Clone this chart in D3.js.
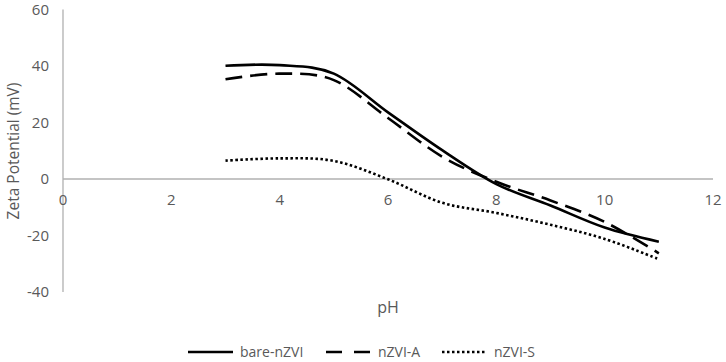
<!DOCTYPE html>
<html>
<head>
<meta charset="utf-8">
<script src="https://cdn.jsdelivr.net/npm/d3@7"></script>
<style>
  body { margin: 0; background: #fff; }
  text { font-family: "Open Sans", "Noto Sans", sans-serif; fill: #595959; }
</style>
</head>
<body>
<script>
// pH points measured
var pH = [3, 4, 5, 6, 7, 8, 9, 10, 11];

// zeta potential values (mV)
var bareNZVI = [40.1, 40.3, 37.3, 23.6, 10.2, -1.8, -9.4, -17.2, -22.2];
var nZVIA    = [35.3, 37.3, 35.0, 21.6, 7.9, -1.0, -7.6, -15.2, -26.3];
var nZVIS    = [6.5, 7.3, 6.4, -0.1, -8.4, -12.0, -16.2, -21.2, -28.4];

var seriesNames = ["bare-nZVI", "nZVI-A", "nZVI-S"];
var xTicks = [0, 2, 4, 6, 8, 10, 12];
var yTicks = [-40, -20, 0, 20, 40, 60];

var width = 726, height = 362;

var x = d3.scaleLinear().domain([0, 12]).range([63, 713]);
var y = d3.scaleLinear().domain([-40, 60]).range([292, 9.5]);

var svg = d3.select("body").append("svg")
  .attr("width", width)
  .attr("height", height);

// y axis line
svg.append("line")
  .attr("x1", x(0)).attr("x2", x(0))
  .attr("y1", y(60)).attr("y2", y(-40))
  .attr("stroke", "#b0b0b0").attr("stroke-width", 1.3);

// x axis line sits at zero
svg.append("line")
  .attr("x1", x(0)).attr("x2", x(12))
  .attr("y1", y(0)).attr("y2", y(0))
  .attr("stroke", "#b0b0b0").attr("stroke-width", 1.3);

svg.selectAll(".ylab")
  .data(yTicks)
  .enter().append("text")
  .attr("class", "ylab")
  .attr("x", 49)
  .attr("y", function (d) { return y(d); })
  .attr("dy", "0.35em")
  .attr("text-anchor", "end")
  .style("font-size", "15px")
  .text(function (d) { return d; });

svg.selectAll(".xlab")
  .data(xTicks)
  .enter().append("text")
  .attr("class", "xlab")
  .attr("x", function (d) { return x(d); })
  .attr("y", y(0) + 21)
  .attr("dy", "0.35em")
  .attr("text-anchor", "middle")
  .style("font-size", "15px")
  .text(function (d) { return d; });

// axis titles
svg.append("text")
  .attr("x", (x(0) + x(12)) / 2)
  .attr("y", 313)
  .attr("text-anchor", "middle")
  .style("font-size", "16px")
  .text("pH");

svg.append("text")
  .attr("transform", "translate(19," + 151 + ") rotate(-90)")
  .attr("text-anchor", "middle")
  .style("font-size", "15.5px")
  .text("Zeta Potential (mV)");

var line = d3.line()
  .x(function (d) { return x(d[0]); })
  .y(function (d) { return y(d[1]); })
  .curve(d3.curveCatmullRom.alpha(0));

var dashes = ["none", "17,8", "2.5,2.5"];
var legDashes = ["none", "16,12", "2.5,2.5"];
var allSeries = [bareNZVI, nZVIA, nZVIS];

svg.selectAll(".series")
  .data(allSeries)
  .enter().append("path")
  .attr("class", "series")
  .attr("d", function (vals) { return line(vals.map(function (v, i) { return [pH[i], v]; })); })
  .attr("fill", "none")
  .attr("stroke", "#000")
  .attr("stroke-width", 2.6)
  .attr("stroke-dasharray", function (d, i) { return dashes[i]; });

// legend
var legX = [188, 326, 442];
var leg = svg.selectAll(".leg")
  .data(seriesNames)
  .enter().append("g")
  .attr("class", "leg")
  .attr("transform", function (d, i) { return "translate(" + legX[i] + ",352)"; });

leg.append("line")
  .attr("x1", 0).attr("x2", 45)
  .attr("stroke", "#000")
  .attr("stroke-width", 2.6)
  .attr("stroke-dasharray", function (d, i) { return legDashes[i]; });

leg.append("text")
  .attr("x", 52)
  .attr("dy", "0.35em")
  .style("font-size", "14px")
  .text(function (d) { return d; });
</script>
</body>
</html>
